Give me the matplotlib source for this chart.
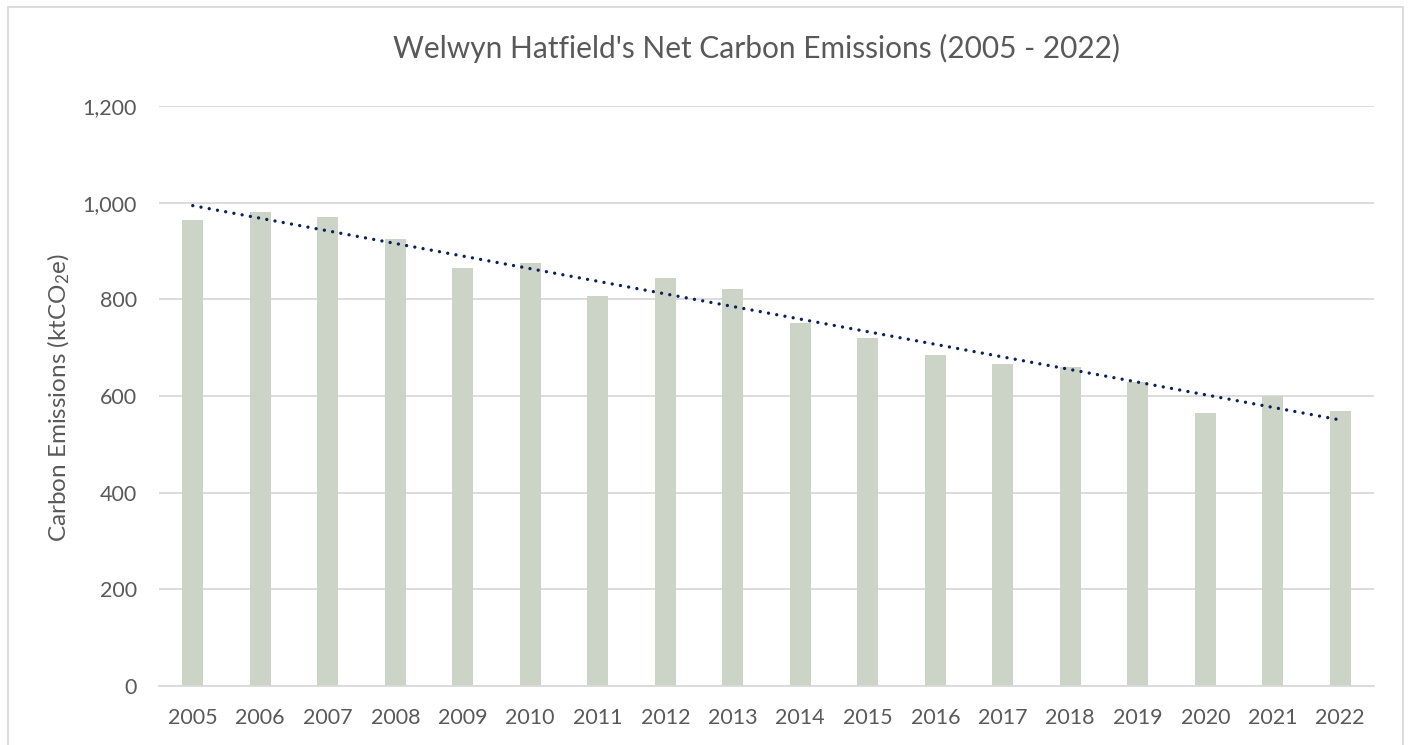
import numpy as np
import matplotlib
matplotlib.use("Agg")
import matplotlib.pyplot as plt
from matplotlib.patches import Rectangle

# data
years = ['2005', '2006', '2007', '2008', '2009', '2010', '2011', '2012', '2013',
         '2014', '2015', '2016', '2017', '2018', '2019', '2020', '2021', '2022']
emissions = [964, 980, 970, 925, 864, 876, 807, 845, 822,
             752, 719, 684, 667, 659, 630, 564, 601, 570]
y_ticks = [0, 200, 400, 600, 800, 1000, 1200]

plt.rcParams['font.family'] = ['Lato', 'DejaVu Sans']
plt.rcParams['mathtext.fontset'] = 'custom'
plt.rcParams['mathtext.rm'] = 'Lato'
plt.rcParams['mathtext.it'] = 'Lato'

W, H = 1410, 745
fig = plt.figure(figsize=(W / 100, H / 100), dpi=100)
ax = fig.add_axes([159 / W, 1 - 686 / H, (1374 - 159) / W, (686 - 106) / H])

x = np.arange(len(years))
ax.bar(x, emissions, width=0.31, color='#CCD3C7', zorder=2)

# linear trendline, like Excel's
slope, intercept = np.polyfit(x, emissions, 1)
ax.plot(x, slope * x + intercept, color='#0B2057', lw=2.4,
        linestyle=(0, (0.01, 2.5)), dash_capstyle='round', zorder=3)

ax.set_xlim(-0.5, len(years) - 0.5)
ax.set_ylim(0, 1200)
ax.set_yticks(y_ticks)
ax.set_yticklabels([f'{v:,}' for v in y_ticks])
ax.set_xticks(x)
ax.set_xticklabels(years)
ax.tick_params(length=0, labelsize=15.5, colors='#595959')
ax.tick_params(axis='x', pad=16)
ax.tick_params(axis='y', pad=16)
ax.grid(axis='y', color='#D9D9D9', lw=1.3, zorder=0)
for s in ['top', 'right', 'left']:
    ax.spines[s].set_visible(False)
ax.spines['bottom'].set_color('#D9D9D9')
ax.spines['bottom'].set_linewidth(1.3)

ax.set_ylabel('Carbon Emissions (ktCO$_2$e)', fontsize=17.5, color='#595959')
ax.yaxis.set_label_coords((72 - 159) / (1374 - 159), (686 - 398) / (686 - 106))
fig.text(0.5 * (395 + 1118) / W, 1 - 48 / H,
         "Welwyn Hatfield's Net Carbon Emissions (2005 - 2022)",
         ha='center', va='center', fontsize=21.5, color='#595959')

# chart border
fig.patches.append(Rectangle((8 / W, -0.01), (1403 - 8) / W, 1 - 7 / H + 0.01,
                             transform=fig.transFigure, fill=False,
                             edgecolor='#D9D9D9', lw=1.3))

fig.savefig('out.png', dpi=100)
